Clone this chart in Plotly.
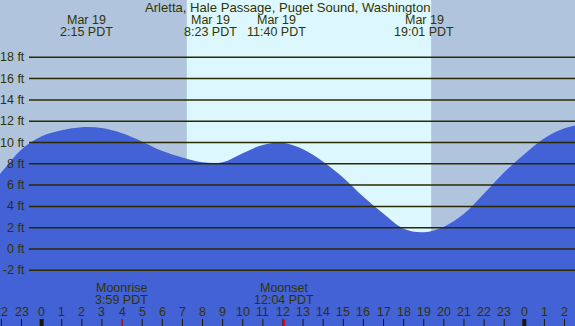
import plotly.graph_objects as go

# ---------------- data ----------------
title = "Arletta, Hale Passage, Puget Sound, Washington"

# hourly tide heights (ft), hour 0 = Mar 19 00:00 PDT
tide_hours = list(range(-3, 29))
tide_heights = [5.0, 7.2, 9.35, 10.58, 11.15, 11.43, 11.35, 10.86, 10.08, 9.2, 8.58, 8.14,
                8.15, 9.0, 9.77, 9.97, 9.36, 8.2, 6.7, 4.9, 3.3, 1.9, 1.57, 2.1,
                3.3, 5.2, 7.2, 8.9, 10.4, 11.33, 11.75, 11.78]

event_dates = ["Mar 19", "Mar 19", "Mar 19", "Mar 19", "Mar 20"]
event_times = ["2:15", "8:23", "11:40", "19:01", "3:28"]
event_day_offset = [0, 0, 0, 0, 24]

sunrise = "7:13"
sunset = "19:22"

moon_labels = ["Moonrise", "Moonset"]
moon_times = ["3:59", "12:04"]

y_ticks = [-2, 0, 2, 4, 6, 8, 10, 12, 14, 16, 18]
hour_ticks = list(range(-2, 27))

# ---------------- styling ----------------
W, H = 575, 326
X_RANGE = [-2.07, 26.52]
Y_RANGE = [-7.23, 23.38]
NIGHT = "#B0C4DE"
DAY = "#DDF7FF"
BLUE = "#4262D6"
INK = "#333300"
FONT = "Liberation Sans, Arial, sans-serif"
FS = 12.5


def to_h(t):
    h, m = t.split(":")
    return int(h) + int(m) / 60.0


def py(px):  # pixel from top -> paper y
    return 1 - px / H


fig = go.Figure()

# baseline (invisible) and tide fill
fig.add_trace(go.Scatter(x=tide_hours, y=[Y_RANGE[0] - 5] * len(tide_hours), mode="lines",
                         line=dict(width=0, color=BLUE), hoverinfo="skip", showlegend=False))
fig.add_trace(go.Scatter(x=tide_hours, y=tide_heights, mode="lines",
                         line=dict(width=0, color=BLUE, shape="spline", smoothing=1.0),
                         fill="tonexty", fillcolor=BLUE, hoverinfo="skip", showlegend=False))

shapes = []
# day band
shapes.append(dict(type="rect", xref="x", yref="paper", x0=to_h(sunrise), x1=to_h(sunset), y0=0, y1=1,
                   fillcolor=DAY, line=dict(width=0), layer="below"))

# grid lines
for v in y_ticks:
    shapes.append(dict(type="line", xref="paper", yref="y", x0=29 / W, x1=1, y0=v, y1=v,
                       line=dict(color="#2A2A00", width=1.5), layer="above"))

# hour ticks
for h in hour_ticks:
    wdt = 4 if h % 24 == 0 else 1
    shapes.append(dict(type="line", xref="x", yref="paper", x0=h, x1=h, y0=0, y1=7 / H,
                       line=dict(color="#1A1A00", width=wdt), layer="above"))
# moon ticks
for t in moon_times:
    shapes.append(dict(type="line", xref="x", yref="paper", x0=to_h(t), x1=to_h(t), y0=0, y1=7 / H,
                       line=dict(color="#FF0000", width=1.5), layer="above"))

ann = []
ann.append(dict(text=title, xref="paper", yref="paper", x=0.5, y=py(7.5), xanchor="center", yanchor="middle",
                showarrow=False, font=dict(size=13.1, color=INK, family=FONT)))
for d, t, off in zip(event_dates, event_times, event_day_offset):
    xh = to_h(t) + off
    ann.append(dict(text=d, xref="x", yref="paper", x=xh, y=py(20), xanchor="center", yanchor="middle",
                    showarrow=False, font=dict(size=FS, color=INK, family=FONT)))
    ann.append(dict(text=t + " PDT", xref="x", yref="paper", x=xh, y=py(31.5), xanchor="center", yanchor="middle",
                    showarrow=False, font=dict(size=FS, color=INK, family=FONT)))
for v in y_ticks:
    ann.append(dict(text=f"{v} ft", xref="paper", yref="y", x=27 / W, y=v, xanchor="right", yanchor="middle",
                    showarrow=False, font=dict(size=FS, color=INK, family=FONT)))
for h in hour_ticks:
    ann.append(dict(text=str(h % 24), xref="x", yref="paper", x=h, y=py(312), xanchor="center", yanchor="middle",
                    showarrow=False, font=dict(size=FS, color=INK, family=FONT)))
for lab, t in zip(moon_labels, moon_times):
    ann.append(dict(text=lab, xref="x", yref="paper", x=to_h(t), y=py(288), xanchor="center", yanchor="middle",
                    showarrow=False, font=dict(size=FS, color=INK, family=FONT)))
    ann.append(dict(text=t + " PDT", xref="x", yref="paper", x=to_h(t), y=py(299.5), xanchor="center", yanchor="middle",
                    showarrow=False, font=dict(size=FS, color=INK, family=FONT)))

fig.update_layout(
    width=W, height=H, margin=dict(l=0, r=0, t=0, b=0),
    paper_bgcolor=NIGHT, plot_bgcolor=NIGHT,
    xaxis=dict(range=X_RANGE, visible=False, fixedrange=True),
    yaxis=dict(range=Y_RANGE, visible=False, fixedrange=True),
    shapes=shapes, annotations=ann, showlegend=False,
)

fig.write_html("out.html", config={"displayModeBar": False},
               post_script="document.body.style.margin='0';document.body.style.overflow='hidden';")
